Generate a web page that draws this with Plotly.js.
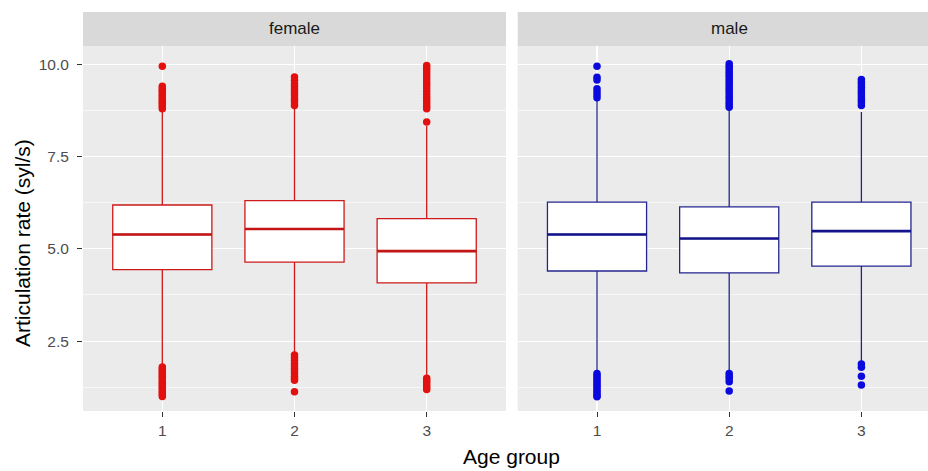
<!DOCTYPE html>
<html>
<head>
<meta charset="utf-8">
<script src="https://cdn.plot.ly/plotly-3.0.1.min.js"></script>
<style>html,body{margin:0;padding:0;background:#fff;}#chart{width:928px;height:471px;}</style>
</head>
<body>
<div id="chart"></div>
<script>
// ---- data ----
const groups = [1, 2, 3];
const tickLabels = ["1", "2", "3"];
const panels = ["female", "male"];

const femaleQ1 = [4.44, 4.64, 4.08];
const femaleMedian = [5.39, 5.54, 4.94];
const femaleQ3 = [6.19, 6.31, 5.82];
const femaleLower = [1.85, 2.18, 1.55];
const femaleUpper = [8.72, 8.85, 8.33];

const maleQ1 = [4.40, 4.35, 4.53];
const maleMedian = [5.39, 5.28, 5.48];
const maleQ3 = [6.27, 6.14, 6.27];
const maleLower = [1.68, 1.68, 1.95];
const maleUpper = [9.02, 8.78, 8.71];

// outliers per group
const femaleOut1 = [9.95, 9.41, 9.35, 9.3, 9.25, 9.2, 9.15, 9.1, 9.05, 9.0, 8.95, 8.9, 8.85, 8.8,
  1.8, 1.75, 1.7, 1.65, 1.6, 1.55, 1.5, 1.45, 1.4, 1.35, 1.3, 1.25, 1.2, 1.15, 1.1, 1.05, 1.0];
const femaleOut2 = [9.66, 9.57, 9.48, 9.4, 9.32, 9.25, 9.18, 9.1, 9.03, 8.96, 8.89,
  2.12, 2.05, 1.98, 1.9, 1.83, 1.76, 1.69, 1.62, 1.55, 1.49, 1.44, 1.13];
const femaleOut3 = [9.97, 9.9, 9.82, 9.74, 9.66, 9.58, 9.5, 9.42, 9.34, 9.26, 9.18, 9.1, 9.02, 8.94, 8.87, 8.8, 8.44,
  1.49, 1.43, 1.37, 1.31, 1.25, 1.19];
const maleOut1 = [9.95, 9.65, 9.58, 9.34, 9.26, 9.18, 9.1,
  1.62, 1.56, 1.5, 1.44, 1.38, 1.32, 1.26, 1.2, 1.14, 1.08, 1.02, 0.99];
const maleOut2 = [10.02, 9.95, 9.88, 9.81, 9.74, 9.67, 9.6, 9.53, 9.46, 9.39, 9.32, 9.25, 9.18, 9.11, 9.04, 8.97, 8.9, 8.84,
  1.62, 1.55, 1.48, 1.4, 1.15];
const maleOut3 = [9.59, 9.52, 9.45, 9.38, 9.31, 9.24, 9.17, 9.1, 9.03, 8.96, 8.89,
  1.88, 1.79, 1.55, 1.31];

const femaleOutliers = [femaleOut1, femaleOut2, femaleOut3];
const maleOutliers = [maleOut1, maleOut2, maleOut3];

// ---- styles ----
const femaleLine = "#CC1A1A", femaleDot = "#E3100F", femaleMed = "#C21515";
const maleLine = "#24248F", maleDot = "#0A0ADE", maleMed = "#14148A";
const boxWidth = 0.75;

function panelTraces(q1, med, q3, lo, hi, outs, xa, ya, lineCol, medCol, dotCol) {
  const tr = [];
  tr.push({
    type: "box", x: groups, q1: q1, median: med, q3: q3,
    lowerfence: lo, upperfence: hi, boxpoints: false,
    width: boxWidth, whiskerwidth: 0,
    fillcolor: "#FFFFFF", line: {color: lineCol, width: 1.3},
    xaxis: xa, yaxis: ya, hoverinfo: "skip", showlegend: false
  });
  const mx = [], my = [];
  groups.forEach((g, i) => { mx.push(g - boxWidth / 2, g + boxWidth / 2, null); my.push(med[i], med[i], null); });
  tr.push({type: "scatter", mode: "lines", x: mx, y: my, line: {color: medCol, width: 2.6},
    xaxis: xa, yaxis: ya, hoverinfo: "skip", showlegend: false});
  const ox = [], oy = [];
  groups.forEach((g, i) => { outs[i].forEach(v => { ox.push(g); oy.push(v); }); });
  tr.push({type: "scatter", mode: "markers", x: ox, y: oy,
    marker: {color: dotCol, size: 7.5, line: {width: 0}},
    xaxis: xa, yaxis: ya, hoverinfo: "skip", showlegend: false});
  return tr;
}

const data = [].concat(
  panelTraces(femaleQ1, femaleMedian, femaleQ3, femaleLower, femaleUpper, femaleOutliers, "x", "y", femaleLine, femaleMed, femaleDot),
  panelTraces(maleQ1, maleMedian, maleQ3, maleLower, maleUpper, maleOutliers, "x2", "y2", maleLine, maleMed, maleDot)
);

const W = 928, H = 471, mL = 83, mR = 0, mT = 12, mB = 60;
const plotW = W - mL - mR, plotH = H - mT - mB;
const stripH = 34;
const yTop = (plotH - stripH) / plotH;
const leftEnd = 423 / plotW;
const rightStart = (517.7 - mL) / plotW;
const pxPerUnit = 423 / 3.2;
const rightMax = 0.4 + (W - 517.7) / pxPerUnit;

const tickFont = {family: "Liberation Sans, Arial, sans-serif", size: 15.5, color: "#4D4D4D"};
const gridCol = "#FFFFFF";

function xAxis(domain, range, anchor) {
  return {domain: domain, range: range, anchor: anchor, tickmode: "array", tickvals: groups, ticktext: tickLabels,
    showgrid: true, gridcolor: gridCol, gridwidth: 1.2, zeroline: false, showline: false,
    ticks: "outside", ticklen: 5, tickwidth: 1, tickcolor: "#333333", tickfont: tickFont, fixedrange: true};
}
function yAxis(anchor, showLabels) {
  return {domain: [0, yTop], range: [0.605, 10.5], anchor: anchor, tickmode: "array",
    tickvals: [2.5, 5, 7.5, 10], ticktext: ["2.5", "5.0", "7.5", "10.0"], showticklabels: showLabels,
    showgrid: true, gridcolor: gridCol, gridwidth: 1.2, zeroline: false, showline: false,
    ticks: showLabels ? "outside" : "", ticklen: 5, tickwidth: 1, tickcolor: "#333333", tickfont: tickFont,
    ticklabelstandoff: 5,
    minor: {tickmode: "array", tickvals: [1.25, 3.75, 6.25, 8.75], showgrid: true, gridcolor: gridCol, gridwidth: 0.6, ticks: ""},
    fixedrange: true};
}

const stripFont = {family: "Liberation Sans, Arial, sans-serif", size: 17, color: "#1A1A1A"};
const titleFont = {family: "Liberation Sans, Arial, sans-serif", size: 21, color: "#000000"};
const layout = {
  width: W, height: H,
  margin: {l: mL, r: mR, t: mT, b: mB, pad: 0},
  paper_bgcolor: "#FFFFFF", plot_bgcolor: "#EBEBEB",
  showlegend: false,
  xaxis: xAxis([0, leftEnd], [0.4, 3.6], "y"),
  yaxis: yAxis("x", true),
  xaxis2: xAxis([rightStart, 1], [0.4, rightMax], "y2"),
  yaxis2: yAxis("x2", false),
  shapes: [
    {type: "rect", xref: "paper", yref: "paper", x0: 0, x1: leftEnd, y0: yTop, y1: 1, fillcolor: "#D9D9D9", line: {width: 0}, layer: "below"},
    {type: "rect", xref: "paper", yref: "paper", x0: rightStart, x1: 1 + 14 / plotW, y0: yTop, y1: 1, fillcolor: "#D9D9D9", line: {width: 0}, layer: "below"}
  ],
  annotations: [
    {text: panels[0], xref: "x", x: 2, yref: "paper", y: (yTop + 1) / 2, yanchor: "middle", showarrow: false, font: stripFont},
    {text: panels[1], xref: "x2", x: 2, yref: "paper", y: (yTop + 1) / 2, yanchor: "middle", showarrow: false, font: stripFont},
    {text: "Age group", xref: "paper", x: (511 - mL) / plotW, yref: "paper", y: -(456 - (H - mB)) / plotH, yanchor: "middle",
      showarrow: false, font: titleFont},
    {text: "Articulation rate (syl/s)", xref: "paper", x: (22 - mL) / plotW, xanchor: "center", yref: "paper",
      y: (H - mB - 243) / plotH, yanchor: "middle", textangle: -90, showarrow: false, font: titleFont}
  ]
};

Plotly.newPlot("chart", data, layout, {staticPlot: true, displayModeBar: false});
</script>
</body>
</html>
